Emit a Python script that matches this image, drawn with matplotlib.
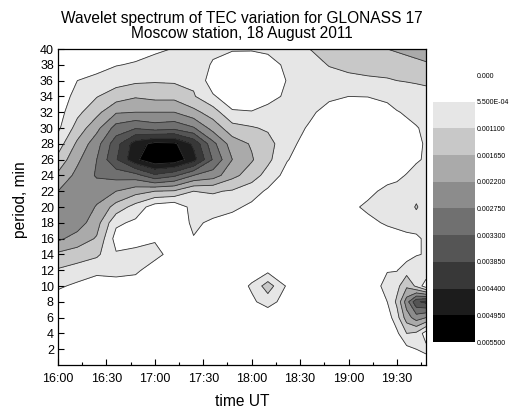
import numpy as np
import matplotlib
matplotlib.use("Agg")
import matplotlib.pyplot as plt
from matplotlib.colors import ListedColormap, BoundaryNorm

plt.rcParams['font.family'] = ['Liberation Sans', 'DejaVu Sans']

# time axis: minutes after 16:00 UT (grid columns)
time_min = [0, 12, 24, 36, 48, 60, 72, 84, 96, 108, 120, 130, 142,
            156, 168, 180, 192, 204, 210, 216, 222, 228]
# period axis, min (rows, from 40 down to 0)
period_min = [40, 38, 36, 34, 32, 30, 28, 26, 24, 22, 20,
              18, 16, 14, 12, 10, 8, 6, 4, 2, 0]

# wavelet power, in units of 5.5E-04 (one contour step); one list per time column
power_steps = [
    [0.2, 0.3, 0.3, 0.4, 0.6, 0.8, 1.5, 2.3, 3.2, 4.0, 4.7, 4.6, 4.2, 2.8, 1.9, 1.15, 0.5, 0.2, 0.1, 0.1, 0.1],
    [0.2, 0.5, 1.0, 1.35, 1.75, 2.4, 3.2, 3.8, 4.3, 4.8, 4.9, 4.5, 3.6, 2.5, 1.6, 0.8, 0.4, 0.2, 0.2, 0.2, 0.2],
    [0.3, 0.6, 1.3, 1.95, 2.7, 3.7, 4.6, 5.0, 5.1, 4.5, 3.9, 3.4, 2.9, 2.2, 1.2, 0.6, 0.3, 0.2, 0.2, 0.2, 0.2],
    [0.4, 0.95, 1.6, 2.5, 3.9, 5.4, 6.6, 6.9, 5.4, 4.0, 2.6, 1.2, 0.6, 1.1, 1.3, 0.6, 0.2, 0.2, 0.2, 0.2, 0.2],
    [0.6, 1.1, 1.8, 2.9, 4.0, 5.9, 8.5, 8.8, 5.6, 3.4, 1.6, 0.8, 0.6, 1.3, 1.2, 0.5, 0.2, 0.2, 0.2, 0.2, 0.2],
    [0.8, 1.4, 1.9, 2.7, 4.0, 5.5, 9.3, 9.8, 6.8, 3.0, 0.5, 0.4, 0.9, 1.3, 0.5, 0.2, 0.2, 0.2, 0.2, 0.2, 0.2],
    [1.05, 1.5, 1.85, 2.7, 4.0, 5.7, 9.2, 9.7, 6.2, 2.9, 0.2, 0.3, 0.4, 0.6, 0.3, 0.2, 0.2, 0.2, 0.2, 0.2, 0.2],
    [1.3, 1.55, 1.8, 2.1, 3.3, 5.1, 7.8, 8.4, 5.0, 2.0, 1.4, 1.2, 0.95, 0.4, 0.2, 0.2, 0.2, 0.2, 0.2, 0.2, 0.2],
    [1.2, 0.9, 0.5, 1.1, 2.5, 3.6, 5.3, 5.9, 4.5, 2.1, 1.5, 0.8, 0.3, 0.2, 0.2, 0.2, 0.2, 0.2, 0.2, 0.2, 0.2],
    [1.1, 0.4, 0.3, 0.5, 1.1, 2.4, 3.5, 4.0, 3.3, 1.9, 1.2, 0.6, 0.3, 0.2, 0.2, 0.3, 0.2, 0.2, 0.2, 0.2, 0.2],
    [1.1, 0.3, 0.2, 0.4, 1.05, 2.1, 2.9, 3.1, 2.5, 1.4, 0.8, 0.4, 0.3, 0.3, 0.4, 1.15, 0.8, 0.3, 0.2, 0.2, 0.2],
    [1.15, 0.7, 0.3, 0.7, 1.3, 1.85, 2.4, 2.25, 1.6, 0.85, 0.4, 0.3, 0.25, 0.3, 0.7, 2.5, 1.45, 0.2, 0.2, 0.2, 0.2],
    [1.25, 1.15, 1.05, 1.15, 1.3, 1.4, 1.3, 1.05, 0.65, 0.4, 0.3, 0.3, 0.3, 0.3, 0.3, 0.85, 0.5, 0.2, 0.2, 0.2, 0.2],
    [2.0, 1.6, 1.4, 1.3, 1.15, 0.9, 0.6, 0.4, 0.3, 0.3, 0.3, 0.3, 0.3, 0.3, 0.3, 0.3, 0.3, 0.2, 0.2, 0.2, 0.2],
    [2.5, 2.05, 1.6, 1.15, 0.7, 0.4, 0.3, 0.3, 0.3, 0.3, 0.4, 0.3, 0.3, 0.3, 0.3, 0.3, 0.3, 0.2, 0.2, 0.2, 0.2],
    [2.7, 2.25, 1.75, 1.0, 0.5, 0.3, 0.3, 0.3, 0.3, 0.5, 0.8, 0.6, 0.4, 0.3, 0.3, 0.3, 0.2, 0.2, 0.2, 0.2, 0.2],
    [2.85, 2.35, 1.85, 1.02, 0.5, 0.3, 0.3, 0.3, 0.4, 0.8, 1.15, 0.8, 0.5, 0.4, 0.3, 0.4, 0.3, 0.2, 0.2, 0.2, 0.2],
    [3.0, 2.5, 1.9, 1.2, 0.7, 0.4, 0.3, 0.4, 0.7, 1.2, 1.35, 1.1, 0.6, 0.5, 0.95, 1.3, 1.0, 0.5, 0.3, 0.2, 0.2],
    [3.1, 2.6, 2.0, 1.4, 0.95, 0.6, 0.4, 0.4, 0.8, 1.3, 1.4, 1.2, 0.7, 0.4, 0.95, 1.7, 2.2, 1.6, 0.8, 0.3, 0.2],
    [3.2, 2.7, 2.05, 1.5, 1.1, 0.8, 0.5, 0.6, 1.05, 1.4, 1.5, 1.3, 0.8, 0.5, 1.6, 2.8, 4.5, 3.5, 2.0, 0.7, 0.2],
    [3.3, 2.8, 2.1, 1.6, 1.25, 0.95, 0.8, 0.9, 1.3, 1.6, 2.1, 1.5, 0.8, 0.9, 2.0, 1.8, 6.8, 4.5, 1.8, 1.0, 0.3],
    [3.4, 2.9, 2.2, 1.6, 1.3, 1.15, 1.1, 1.1, 1.2, 1.4, 1.5, 1.4, 1.2, 1.1, 1.8, 0.4, 7.3, 4.0, 0.5, 1.3, 0.3],
]
step = 5.5e-4

levels = [0.0, 5.5e-4, 1.1e-3, 1.65e-3, 2.2e-3, 2.75e-3, 3.3e-3,
          3.85e-3, 4.4e-3, 4.95e-3, 5.5e-3]
level_labels = ["0.000", "5.500E-04", "0.001100", "0.001650", "0.002200",
                "0.002750", "0.003300", "0.003850", "0.004400", "0.004950",
                "0.005500"]
band_colors = ['#ffffff', '#e6e6e6', '#c8c8c8', '#aaaaaa', '#8c8c8c',
               '#707070', '#555555', '#383838', '#1c1c1c', '#000000']

xtick_pos = [0, 30, 60, 90, 120, 150, 180, 210]
xtick_labels = ["16:00", "16:30", "17:00", "17:30", "18:00", "18:30", "19:00", "19:30"]
ytick_pos = list(range(2, 41, 2))

t = np.array(time_min, dtype=float)
p = np.array(period_min[::-1], dtype=float)
Z = np.array(power_steps, dtype=float).T[::-1, :] * step

W, H = 510, 411
fig = plt.figure(figsize=(W / 100, H / 100), dpi=100)
ax = fig.add_axes([58 / W, 1 - 365 / H, (426 - 58) / W, (365 - 49) / H])

cmap = ListedColormap(band_colors)
norm = BoundaryNorm(levels, cmap.N)
cf = ax.contourf(t, p, Z, levels=levels, cmap=cmap, norm=norm)
ax.contour(t, p, Z, levels=levels[1:], colors='#333333', linewidths=0.6)

ax.set_xlim(0, 228)
ax.set_ylim(0, 40)
ax.set_xticks(xtick_pos)
ax.set_xticklabels(xtick_labels)
ax.set_xticks(list(range(15, 228, 30)), minor=True)
ax.set_yticks(ytick_pos)
ax.set_yticklabels([str(v) for v in ytick_pos])
ax.tick_params(axis='both', which='major', direction='in', length=4, width=0.8,
               labelsize=9, colors='black')
ax.tick_params(axis='x', which='major', pad=6)
ax.tick_params(axis='y', which='major', pad=3)
ax.tick_params(axis='x', which='minor', direction='in', length=2.5, width=0.8)
for s in ax.spines.values():
    s.set_linewidth(0.9)

fig.text(242 / W, 1 - 401 / H, "time UT", ha='center', va='center', fontsize=11.2)
fig.text(21 / W, 1 - 200 / H, "period, min", ha='center', va='center',
         rotation=90, fontsize=11.2)
fig.text(242 / W, 1 - 19 / H, "Wavelet spectrum of TEC variation for GLONASS 17",
         ha='center', va='center', fontsize=11.2)
fig.text(242 / W, 1 - 33.5 / H, "Moscow station, 18 August 2011",
         ha='center', va='center', fontsize=11.2)

cax = fig.add_axes([433 / W, 1 - 342 / H, 42 / W, 267 / H])
cb = fig.colorbar(cf, cax=cax)
cax.invert_yaxis()
cb.outline.set_visible(False)
cb.set_ticks(levels)
cb.set_ticklabels(level_labels)
cax.tick_params(length=0, labelsize=5.0, pad=1.0)

fig.savefig("out.png", dpi=100)
